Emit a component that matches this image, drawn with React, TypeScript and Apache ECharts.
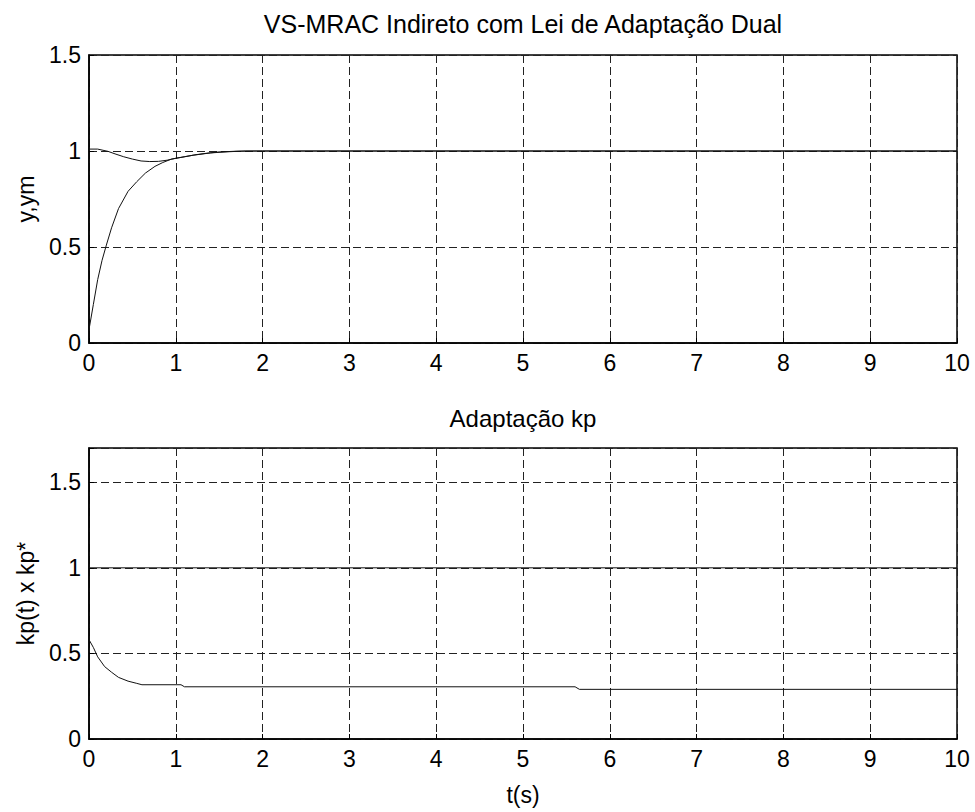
import React, { useEffect, useRef } from "react";
import * as echarts from "echarts";

// Top subplot: plant output y and reference model ym
const tY = [0, 0.05, 0.1, 0.15, 0.2, 0.26, 0.34, 0.45, 0.55, 0.65, 0.76, 0.85, 0.95, 1.1, 1.22, 1.35, 1.5, 1.7, 2, 10];
const yVals = [0.07, 0.2, 0.33, 0.43, 0.51, 0.6, 0.7, 0.79, 0.84, 0.885, 0.92, 0.94, 0.958, 0.97, 0.98, 0.988, 0.995, 0.999, 1.0, 1.0];
const tYm = [0, 0.1, 0.15, 0.22, 0.3, 0.4, 0.5, 0.6, 0.7, 0.8, 0.9, 1.0, 1.2, 1.4, 1.6, 1.8, 2, 10];
const ymVals = [1.01, 1.01, 1.005, 0.998, 0.985, 0.97, 0.958, 0.948, 0.945, 0.946, 0.952, 0.962, 0.978, 0.99, 0.996, 1.0, 1.0, 1.0];

// Bottom subplot: kp(t) adaptation and true kp*
const tKp = [0, 0.05, 0.1, 0.18, 0.26, 0.34, 0.45, 0.55, 0.61, 1.06, 1.1, 5.6, 5.65, 10];
const kpVals = [0.58, 0.535, 0.48, 0.423, 0.39, 0.36, 0.338, 0.325, 0.317, 0.317, 0.305, 0.305, 0.29, 0.29];
const tKpStar = [0, 10];
const kpStarVals = [1, 1];

const xTicks = [0, 1, 2, 3, 4, 5, 6, 7, 8, 9, 10];
const yTicks = [0, 0.5, 1, 1.5];

const title1 = "VS-MRAC Indireto com Lei de Adaptação Dual";
const title2 = "Adaptação kp";

const FONT = "'Liberation Sans', Arial, Helvetica, sans-serif";
const TICK = 23;

const zip = (t: number[], v: number[]) => t.map((x, i) => [x, v[i]]);

export default function App() {
  const ref = useRef<HTMLDivElement>(null);
  useEffect(() => {
    if (!ref.current) return;
    const chart = echarts.init(ref.current, undefined, { renderer: "svg" });
    const xAxisBase = (gridIndex: number, name: string) => ({
      type: "value",
      gridIndex,
      min: 0,
      max: 10,
      interval: 1,
      name,
      nameLocation: "middle",
      nameGap: 44,
      nameTextStyle: { fontSize: TICK, color: "#000", fontFamily: FONT },
      axisLine: { show: true, onZero: false, lineStyle: { color: "#000", width: 1.5 } },
      axisTick: { show: true, inside: true, length: 5, lineStyle: { color: "#000" } },
      axisLabel: {
        show: true,
        margin: 8,
        fontSize: TICK,
        color: "#000",
        fontFamily: FONT,
        formatter: (v: number) => (xTicks.includes(v) ? String(v) : ""),
      },
      splitLine: { show: true, lineStyle: { color: "#222", type: [8, 4], width: 1 } },
    });
    const yAxisBase = (gridIndex: number, max: number, name: string) => ({
      type: "value",
      gridIndex,
      min: 0,
      max,
      interval: 0.5,
      name,
      nameLocation: "middle",
      nameGap: 52,
      nameRotate: 90,
      nameTextStyle: { fontSize: TICK, color: "#000", fontFamily: FONT },
      axisLine: { show: true, onZero: false, lineStyle: { color: "#000", width: 1.5 } },
      axisTick: { show: true, inside: true, length: 5, lineStyle: { color: "#000" } },
      axisLabel: {
        show: true,
        margin: 8,
        fontSize: TICK,
        color: "#000",
        fontFamily: FONT,
        formatter: (v: number) => (yTicks.includes(v) ? String(v) : ""),
      },
      splitLine: { show: true, lineStyle: { color: "#222", type: [8, 4], width: 1 } },
    });
    const lineSeries = (xi: number, data: number[][], w = 1) => ({
      type: "line",
      xAxisIndex: xi,
      yAxisIndex: xi,
      data,
      showSymbol: false,
      symbol: "none",
      lineStyle: { color: "#111", width: w },
      z: 5,
    });
    chart.setOption({
      animation: false,
      backgroundColor: "#fff",
      grid: [
        { left: 89, top: 55, width: 868, height: 288, show: true, borderColor: "#000", borderWidth: 1.5, backgroundColor: "transparent" },
        { left: 89, top: 448, width: 868, height: 291, show: true, borderColor: "#000", borderWidth: 1.5, backgroundColor: "transparent" },
      ],
      xAxis: [xAxisBase(0, ""), xAxisBase(1, "t(s)")],
      yAxis: [yAxisBase(0, 1.5, "y,ym"), yAxisBase(1, 1.7, "kp(t) x kp*")],
      series: [
        lineSeries(0, zip(tY, yVals)),
        lineSeries(0, zip(tYm, ymVals)),
        lineSeries(1, zip(tKp, kpVals)),
        lineSeries(1, zip(tKpStar, kpStarVals)),
      ],
      graphic: [
        {
          type: "text",
          style: { text: title1, x: 523, y: 24, align: "center", verticalAlign: "middle", fontSize: 25, fontFamily: FONT, fill: "#000" },
        },
        {
          type: "text",
          style: { text: title2, x: 523, y: 418, align: "center", verticalAlign: "middle", fontSize: 24, fontFamily: FONT, fill: "#000" },
        },
      ],
    });
    return () => chart.dispose();
  }, []);
  return (
    <div
      ref={ref}
      style={{ position: "fixed", left: 0, top: 0, width: 975, height: 812, background: "#fff" }}
    />
  );
}
